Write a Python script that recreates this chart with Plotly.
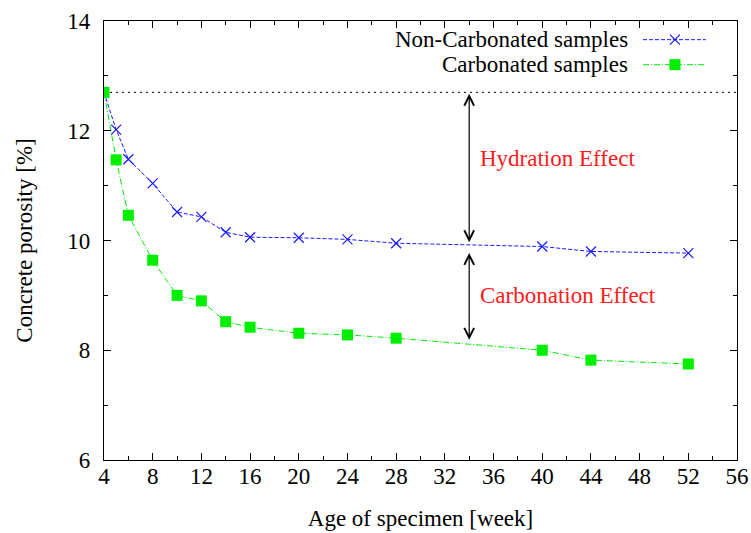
import plotly.graph_objects as go

# Age of specimen (weeks) and measured porosity (%)
weeks = [4, 5, 6, 8, 10, 12, 14, 16, 20, 24, 28, 40, 44, 52]
non_carbonated = [12.70, 12.02, 11.48, 11.04, 10.52, 10.43, 10.15, 10.06, 10.05, 10.02, 9.95, 9.89, 9.80, 9.77]
carbonated = [12.70, 11.47, 10.46, 9.64, 9.00, 8.90, 8.52, 8.42, 8.31, 8.28, 8.22, 8.00, 7.82, 7.75]

initial_porosity = 12.70
x_ticks = list(range(4, 57, 4))
y_ticks = [6, 8, 10, 12, 14]

series_names = ["Non-Carbonated samples", "Carbonated samples"]
BLUE = "#1a1aff"
GREEN = "#00ee00"
RED = "#ff1a1a"
FONT = "Liberation Serif"
FS = 23

blue_line = dict(color=BLUE, width=1, dash="4px,2px")
blue_marker = dict(symbol="x-thin-open", size=10, color=BLUE, line=dict(color=BLUE, width=1.2))
green_line = dict(color=GREEN, width=1, dash="6px,2px,1px,2px")
green_marker = dict(symbol="square", size=11, color=GREEN)

fig = go.Figure()

# Reference level: porosity at the first measurement
fig.add_trace(go.Scatter(
    x=[4, 56], y=[initial_porosity, initial_porosity], mode="lines",
    line=dict(color="black", width=1, dash="2px,4px"), showlegend=False, hoverinfo="skip"))

fig.add_trace(go.Scatter(
    x=weeks, y=non_carbonated, mode="lines+markers", name=series_names[0],
    line=blue_line, marker=blue_marker, showlegend=False))

fig.add_trace(go.Scatter(
    x=weeks, y=carbonated, mode="lines+markers", name=series_names[1],
    line=green_line, marker=green_marker, showlegend=False))

# Key drawn on an overlay axis spanning the plot area in unit coordinates
key_rows = [0.9575, 0.9005]
for name, ky, ln, mk in zip(series_names, key_rows, [blue_line, green_line], [blue_marker, green_marker]):
    fig.add_trace(go.Scatter(x=[0.8515, 0.951], y=[ky, ky], mode="lines", line=ln,
                             xaxis="x2", yaxis="y2", showlegend=False, hoverinfo="skip"))
    fig.add_trace(go.Scatter(x=[0.902], y=[ky], mode="markers", marker=mk,
                             xaxis="x2", yaxis="y2", showlegend=False, hoverinfo="skip"))
    fig.add_annotation(x=0.8305, y=ky, xref="paper", yref="paper", text=name,
                       showarrow=False, xanchor="right", yanchor="middle",
                       font=dict(family=FONT, size=FS, color="black"))

# Double-headed arrows marking the two effects
arrow_x = 34
for top, bottom in [(initial_porosity, 9.97), (9.80, 8.19)]:
    fig.add_annotation(x=arrow_x, y=bottom, ax=arrow_x, ay=top, xref="x", yref="y",
                       axref="x", ayref="y", showarrow=True, arrowside="end+start",
                       arrowhead=5, startarrowhead=5, arrowsize=1.6, startarrowsize=1.6,
                       arrowwidth=1.2, arrowcolor="black", text="")

fig.add_annotation(x=34.7, y=11.5, xref="x", yref="y", text="Hydration Effect", showarrow=False,
                   xanchor="left", yanchor="middle", font=dict(family=FONT, size=FS, color=RED))
fig.add_annotation(x=34.7, y=8.99, xref="x", yref="y", text="Carbonation Effect", showarrow=False,
                   xanchor="left", yanchor="middle", font=dict(family=FONT, size=FS, color=RED))

axis_common = dict(
    showline=True, linecolor="black", linewidth=1.2, mirror="allticks",
    ticks="inside", ticklen=7, tickwidth=1, tickcolor="black",
    showgrid=False, zeroline=False, automargin=False,
    tickfont=dict(family=FONT, size=FS, color="black"),
)

fig.update_layout(
    width=751, height=533,
    margin=dict(l=104, r=14, t=21, b=73),
    paper_bgcolor="white", plot_bgcolor="white",
    xaxis=dict(range=[4, 56], tickvals=x_ticks, ticktext=[str(v) for v in x_ticks],
               minor=dict(ticks="inside", dtick=2, tick0=4, ticklen=4, tickcolor="black"),
               ticklabelstandoff=-5,
               title=dict(text="Age of specimen [week]", font=dict(family=FONT, size=FS, color="black"),
                          standoff=22),
               **axis_common),
    yaxis=dict(range=[6, 14], tickvals=y_ticks, ticktext=[str(v) for v in y_ticks],
               minor=dict(ticks="inside", dtick=1, tick0=6, ticklen=4, tickcolor="black"),
               ticklabelstandoff=8,
               title=dict(text="Concrete porosity [%]", font=dict(family=FONT, size=FS, color="black"),
                          standoff=28),
               **axis_common),
    xaxis2=dict(range=[0, 1], overlaying="x", visible=False, fixedrange=True),
    yaxis2=dict(range=[0, 1], overlaying="y", visible=False, fixedrange=True),
)

fig.write_html("out.html")
